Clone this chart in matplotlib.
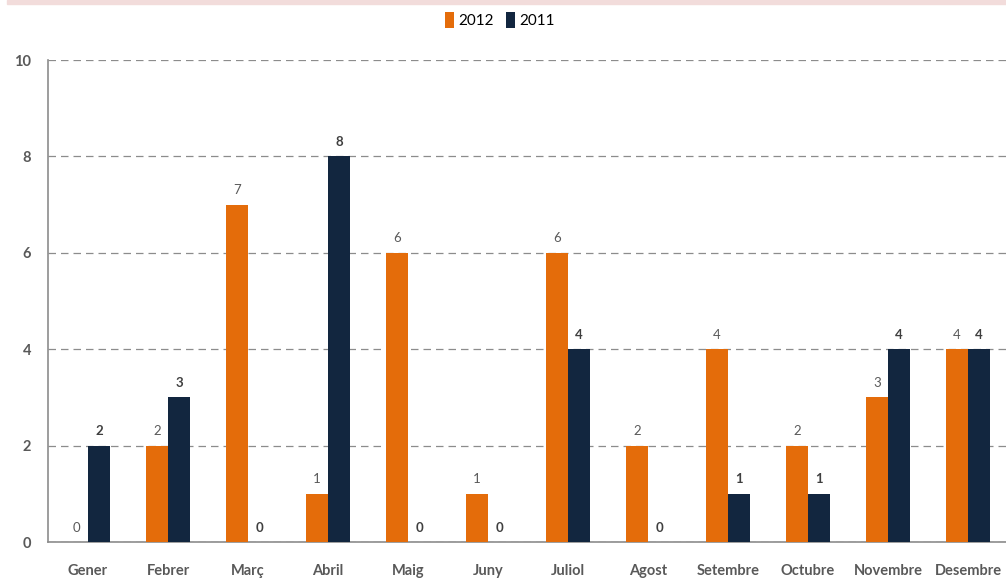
import matplotlib
matplotlib.use("Agg")
import matplotlib.pyplot as plt
import numpy as np

months = ["Gener", "Febrer", "Març", "Abril", "Maig", "Juny", "Juliol",
          "Agost", "Setembre", "Octubre", "Novembre", "Desembre"]
v2012 = [0, 2, 7, 1, 6, 1, 6, 2, 4, 2, 3, 4]
v2011 = [2, 3, 0, 8, 0, 0, 4, 0, 1, 1, 4, 4]
yticks = [0, 2, 4, 6, 8, 10]

c2012 = "#E46C0A"
c2011 = "#12263F"
gray = "#595959"

plt.rcParams['font.family'] = ['Lato', 'DejaVu Sans']

fig = plt.figure(figsize=(10.06, 5.79), dpi=100)
# pink top band
fig.patches.append(plt.Rectangle((7/1006, 1 - 4/579), 1, 4/579,
                                 transform=fig.transFigure, color="#F2DCDB", zorder=0))

ax = fig.add_axes([48/1006, 37/579, 960/1006, 482/579])
x = np.arange(len(months))
w = 0.28
ax.bar(x - w/2, v2012, w, color=c2012, label="2012", zorder=3)
ax.bar(x + w/2, v2011, w, color=c2011, label="2011", zorder=3)

for xi, a, b in zip(x, v2012, v2011):
    ax.annotate(str(a), (xi - w/2, a), xytext=(0, 6), textcoords="offset points",
                ha="center", va="bottom", fontsize=9.5, color=gray)
    ax.annotate(str(b), (xi + w/2, b), xytext=(0, 6), textcoords="offset points",
                ha="center", va="bottom", fontsize=9.5, color="#3F3F3F", fontweight="bold")

ax.set_xlim(-0.5, 11.5)
ax.set_ylim(0, 10)
ax.set_yticks(yticks)
ax.set_yticklabels([str(t) for t in yticks], fontsize=10.5, fontweight="bold", color=gray)
ax.set_xticks(x)
ax.set_xticklabels(months, fontsize=10.5, fontweight="bold", color=gray)
ax.tick_params(axis="both", length=0)
ax.tick_params(axis="x", pad=16)
ax.tick_params(axis="y", pad=12)
for t in ax.get_yticklabels():
    t.set_horizontalalignment("right")

ax.yaxis.grid(True, linestyle=(0, (6, 4)), color="#8C8C8C", linewidth=0.9, zorder=0)
ax.set_axisbelow(True)
for s in ["top", "right"]:
    ax.spines[s].set_visible(False)
ax.spines["left"].set_color("#8C8C8C")
ax.spines["bottom"].set_color("#8C8C8C")
ax.spines["left"].set_linewidth(1.2)
ax.spines["bottom"].set_linewidth(1.2)

fig.legend(loc="center", bbox_to_anchor=(500/1006, 1 - 20/579), ncol=2, frameon=False,
           fontsize=11, handlelength=0.55, handleheight=1.2, handletextpad=0.3,
           columnspacing=0.8)

fig.savefig("out.png", dpi=100)
